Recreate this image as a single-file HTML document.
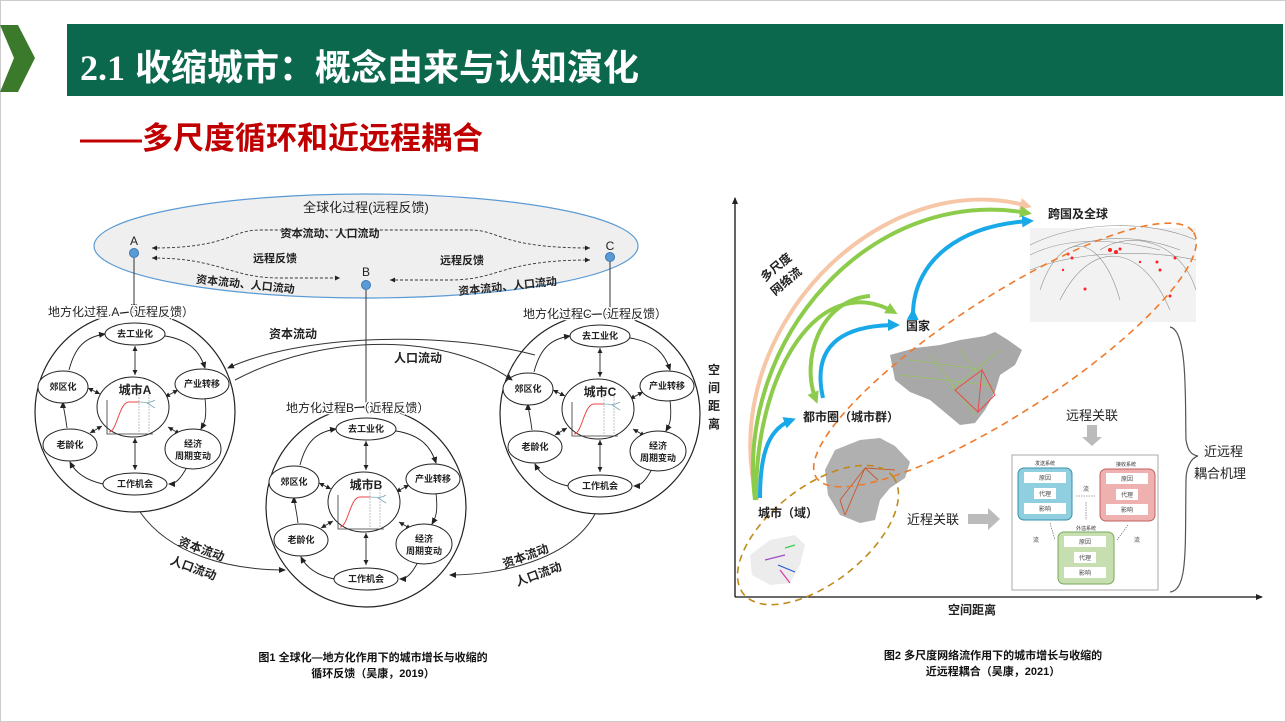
<!DOCTYPE html>
<html><head><meta charset="utf-8"><style>
html,body{margin:0;padding:0;background:#fff;}
svg{display:block;font-family:"Liberation Sans","Noto Sans CJK SC",sans-serif;}
</style></head><body>
<svg width="1286" height="722" viewBox="0 0 1286 722" xmlns="http://www.w3.org/2000/svg">
<defs>
<marker id="ah" markerWidth="8" markerHeight="8" refX="6" refY="4" orient="auto" markerUnits="userSpaceOnUse"><path d="M0,1 L7,4 L0,7 z" fill="#222"/></marker>
<marker id="ahs" markerWidth="6" markerHeight="6" refX="5" refY="3" orient="auto-start-reverse" markerUnits="userSpaceOnUse"><path d="M0,0.5 L5,3 L0,5.5 z" fill="#222"/></marker>
<marker id="ab" markerWidth="14" markerHeight="14" refX="8" refY="7" orient="auto" markerUnits="userSpaceOnUse"><path d="M0,1 L12,7 L0,13 z" fill="#1aa9e8"/></marker>
<marker id="ag" markerWidth="14" markerHeight="14" refX="8" refY="7" orient="auto" markerUnits="userSpaceOnUse"><path d="M0,1 L12,7 L0,13 z" fill="#8ccc4a"/></marker>
<marker id="ap" markerWidth="14" markerHeight="14" refX="8" refY="7" orient="auto" markerUnits="userSpaceOnUse"><path d="M0,1 L12,7 L0,13 z" fill="#f6c6a6"/></marker>
<g id="loc">
<circle cx="0" cy="0" r="100" fill="#fff" stroke="#222" stroke-width="1.2"/>
<g fill="none" stroke="#222" stroke-width="0.9">
<path d="M30,-76 C55,-72 65,-60 70,-44" marker-end="url(#ah)"/>
<path d="M70,-14 C72,5 70,10 66,17" marker-end="url(#ah)"/>
<path d="M52,55 C45,68 40,72 34,72" marker-end="url(#ah)"/>
<path d="M-32,72 C-50,68 -60,60 -65,50" marker-end="url(#ah)"/>
<path d="M-68,16 C-70,0 -72,-5 -72,-10" marker-end="url(#ah)"/>
<path d="M-66,-42 C-60,-65 -50,-75 -30,-78" marker-end="url(#ah)"/>
<line x1="0" y1="-66" x2="0" y2="-37" marker-end="url(#ahs)" marker-start="url(#ahs)"/>
<line x1="0" y1="26" x2="0" y2="58" marker-end="url(#ahs)" marker-start="url(#ahs)"/>
<line x1="43" y1="-22" x2="30" y2="-15" marker-end="url(#ahs)" marker-start="url(#ahs)"/>
<line x1="33" y1="15" x2="45" y2="22" marker-end="url(#ahs)" marker-start="url(#ahs)"/>
<line x1="-47" y1="-24" x2="-35" y2="-18" marker-end="url(#ahs)" marker-start="url(#ahs)"/>
<line x1="-33" y1="14" x2="-45" y2="21" marker-end="url(#ahs)" marker-start="url(#ahs)"/>
</g>
<g fill="#fff" stroke="#222" stroke-width="1">
<ellipse cx="0" cy="-78" rx="30" ry="11"/>
<ellipse cx="67" cy="-28" rx="27" ry="15"/>
<ellipse cx="58" cy="37" rx="28" ry="20"/>
<ellipse cx="0" cy="72" rx="32" ry="11"/>
<ellipse cx="-65" cy="33" rx="27" ry="16"/>
<ellipse cx="-72" cy="-25" rx="25" ry="16"/>
<ellipse cx="-2" cy="-5" rx="36" ry="30"/>
</g>
<g font-size="9" font-weight="bold" text-anchor="middle" fill="#222">
<text x="0" y="-75">去工业化</text>
<text x="67" y="-25">产业转移</text>
<text x="58" y="35">经济</text><text x="58" y="47">周期变动</text>
<text x="0" y="75">工作机会</text>
<text x="-65" y="36">老龄化</text>
<text x="-72" y="-22">郊区化</text>
</g>
<path d="M-28,-12 V22 H18" fill="none" stroke="#333" stroke-width="0.8"/>
<path d="M-26,20 C-18,20 -16,-10 -6,-10 L4,-10" fill="none" stroke="#e44" stroke-width="1"/>
<path d="M4,-10 C10,-10 14,-8 20,-12 M12,-9 L20,-4" fill="none" stroke="#7ab" stroke-width="0.8"/>
<path d="M4,-18 V22 M14,-18 V22" stroke="#999" stroke-width="0.6" stroke-dasharray="2,1"/>
</g>
</defs>

<rect x="0.5" y="0.5" width="1285" height="721" fill="#fff" stroke="#ccc"/>
<polygon points="0,25 18,25 35,58 18,92 0,92 14,58" fill="#3a7a2a"/>
<rect x="67" y="24" width="1216" height="72" fill="#0b684d"/>
<text x="80" y="80" font-size="36" font-weight="bold" fill="#fff"><tspan font-family="Liberation Serif,serif">2.1</tspan> 收缩城市：概念由来与认知演化</text>
<text x="80" y="149" font-size="31" font-weight="bold" fill="#c00000">——多尺度循环和近远程耦合</text>

<!-- left diagram -->
<ellipse cx="366" cy="246" rx="272" ry="52" fill="#efefef" stroke="#5b9bd5" stroke-width="1.2"/>
<text x="366" y="212" font-size="13" text-anchor="middle" fill="#222">全球化过程(远程反馈)</text>
<g fill="none" stroke="#333" stroke-width="0.9" stroke-dasharray="3,2">
<path d="M152,248 C230,248 230,230 260,230 L470,230 C500,230 500,248 590,248" marker-end="url(#ahs)" marker-start="url(#ahs)"/>
<path d="M152,258 C220,258 230,278 280,278 L340,278" marker-end="url(#ahs)" marker-start="url(#ahs)"/>
<path d="M390,280 L450,280 C500,280 500,260 590,260" marker-end="url(#ahs)" marker-start="url(#ahs)"/>
</g>
<g font-size="11" font-weight="bold" fill="#222" text-anchor="middle">
<text x="330" y="237">资本流动、人口流动</text>
<text x="275" y="262">远程反馈</text>
<text x="462" y="264">远程反馈</text>
<text x="245" y="288" transform="rotate(6 245 288)">资本流动、人口流动</text>
<text x="508" y="290" transform="rotate(-6 508 290)">资本流动、人口流动</text>
</g>
<g fill="#5b9bd5" stroke="#3a78b5"><circle cx="134" cy="253" r="4.5"/><circle cx="366" cy="285" r="4.5"/><circle cx="610" cy="257" r="4.5"/></g>
<g font-size="12" fill="#222" text-anchor="middle"><text x="134" y="245">A</text><text x="366" y="276">B</text><text x="610" y="250">C</text></g>
<use href="#loc" x="135" y="412"/>
<use href="#loc" x="366" y="507"/>
<use href="#loc" x="600" y="414"/>
<g stroke="#333" stroke-width="1"><line x1="134" y1="258" x2="134" y2="310" marker-end="url(#ah)"/><line x1="366" y1="290" x2="366" y2="412" marker-end="url(#ah)"/><line x1="610" y1="262" x2="610" y2="314" marker-end="url(#ah)"/></g>
<g font-size="12" fill="#222" stroke="#fff" stroke-width="3" paint-order="stroke">
<text x="48" y="316">地方化过程 A （近程反馈）</text>
<text x="523" y="318">地方化过程C （近程反馈）</text>
<text x="286" y="412">地方化过程B （近程反馈）</text>
</g>
<g font-size="12" font-weight="bold" fill="#222" text-anchor="middle">
<text x="135" y="394">城市A</text><text x="366" y="489">城市B</text><text x="600" y="396">城市C</text>
</g>
<g fill="none" stroke="#333" stroke-width="1">
<path d="M535,355 C440,330 300,335 228,368" marker-end="url(#ah)"/>
<path d="M235,380 C330,330 450,335 512,380" marker-end="url(#ah)"/>
<path d="M140,512 C170,555 230,570 285,570" marker-end="url(#ah)"/>
<path d="M595,514 C570,560 500,575 450,575" marker-end="url(#ah)"/>
</g>
<g font-size="12" font-weight="bold" fill="#222" text-anchor="middle">
<text x="293" y="338">资本流动</text><text x="418" y="362">人口流动</text>
<text x="200" y="553" transform="rotate(20 200 553)">资本流动</text>
<text x="192" y="572" transform="rotate(20 192 572)">人口流动</text>
<text x="527" y="560" transform="rotate(-20 527 560)">资本流动</text>
<text x="540" y="578" transform="rotate(-20 540 578)">人口流动</text>
</g>
<g font-size="11" font-weight="bold" fill="#111" text-anchor="middle">
<text x="373" y="661">图1 全球化—地方化作用下的城市增长与收缩的</text>
<text x="373" y="677">循环反馈（吴康，2019）</text>
<text x="993" y="659">图2 多尺度网络流作用下的城市增长与收缩的</text>
<text x="993" y="675">近远程耦合（吴康，2021）</text>
</g>

<!-- right diagram -->
<g stroke="#111" stroke-width="1.3"><line x1="735" y1="597" x2="735" y2="198" marker-end="url(#ah)"/><line x1="735" y1="597" x2="1262" y2="597" marker-end="url(#ah)"/></g>
<text x="972" y="614" font-size="12" font-weight="bold" text-anchor="middle" fill="#222">空间距离</text>
<g font-size="12" font-weight="bold" fill="#222" text-anchor="middle"><text x="714" y="374">空</text><text x="714" y="392">间</text><text x="714" y="410">距</text><text x="714" y="428">离</text></g>
<rect x="1030" y="228" width="166" height="94" fill="#f2f2f2"/>
<g fill="none" stroke="#777" stroke-width="0.6" opacity="0.8">
<path d="M1030,245 C1080,220 1150,220 1196,240"/><path d="M1030,255 C1070,235 1120,240 1160,250"/><path d="M1040,290 C1060,230 1100,230 1120,300"/><path d="M1100,250 C1130,230 1180,240 1196,290"/><path d="M1060,300 C1090,240 1140,240 1170,310"/><path d="M1030,270 C1080,250 1150,250 1196,260"/><path d="M1070,248 C1100,235 1140,235 1180,250"/>
</g>
<g fill="#f22"><circle cx="1068" cy="254" r="1.5"/><circle cx="1072" cy="258" r="1.5"/><circle cx="1110" cy="250" r="2"/><circle cx="1116" cy="252" r="2"/><circle cx="1120" cy="249" r="1.5"/><circle cx="1157" cy="262" r="1.5"/><circle cx="1160" cy="270" r="1.5"/><circle cx="1175" cy="258" r="1.5"/><circle cx="1085" cy="289" r="1.5"/><circle cx="1170" cy="296" r="1.5"/><circle cx="1063" cy="270" r="1.2"/><circle cx="1140" cy="262" r="1.2"/></g>
<path d="M890,355 L915,348 L940,345 L960,340 L985,336 L995,332 L1008,340 L1022,350 L1015,365 L1000,375 L995,392 L985,410 L975,423 L960,425 L948,415 L930,400 L910,392 L895,380 Z" fill="#a8a8a8"/>
<g stroke="#8fd43a" stroke-width="0.6" opacity="0.9"><line x1="910" y1="360" x2="985" y2="370"/><line x1="930" y1="355" x2="975" y2="415"/><line x1="960" y1="350" x2="995" y2="395"/><line x1="900" y1="375" x2="990" y2="385"/><line x1="950" y1="390" x2="1000" y2="350"/></g>
<g stroke="#e44" stroke-width="0.9" fill="none"><path d="M982,370 L995,395 L978,412 Z M955,390 L982,370 L978,412 Z"/></g>
<path d="M835,450 L860,440 L880,438 L895,446 L910,462 L905,478 L890,488 L880,500 L875,520 L860,523 L840,515 L828,495 L825,470 Z" fill="#b0b0b0"/>
<g stroke="#c8582a" stroke-width="0.9"><line x1="865" y1="468" x2="840" y2="500"/><line x1="865" y1="468" x2="878" y2="480"/><line x1="865" y1="468" x2="845" y2="515"/><line x1="840" y1="500" x2="845" y2="515"/><line x1="865" y1="468" x2="895" y2="470"/></g>
<path d="M750,555 L770,540 L795,535 L805,545 L800,565 L790,583 L770,585 L752,575 Z" fill="#ececec"/>
<g stroke-width="1.2" fill="none"><path d="M765,560 L785,555" stroke="#9a4cc8"/><path d="M778,565 L795,572" stroke="#2a56d8"/><path d="M780,570 L790,583" stroke="#d83aa8"/><path d="M785,548 L795,545" stroke="#3acc4a"/></g>
<ellipse cx="1005" cy="355" rx="225" ry="58" transform="rotate(-33 1005 355)" fill="none" stroke="#ee7a2a" stroke-width="1.6" stroke-dasharray="7,5"/>
<ellipse cx="818" cy="535" rx="95" ry="48" transform="rotate(-38 818 535)" fill="none" stroke="#c08a1a" stroke-width="1.6" stroke-dasharray="7,5"/>
<g fill="none" stroke-width="4">
<path d="M757,500 C715,330 880,165 1028,206" stroke="#f6c6a6" marker-end="url(#ap)"/>
<path d="M755,500 C735,340 870,185 1028,213" stroke="#8ccc4a" marker-end="url(#ag)"/>
<path d="M756,500 C755,370 820,270 894,312" stroke="#8ccc4a" marker-end="url(#ag)"/>
<path d="M870,296 C820,300 800,360 816,400" stroke="#8ccc4a" marker-end="url(#ag)"/>
<path d="M760,498 C760,450 770,428 792,420" stroke="#1aa9e8" marker-end="url(#ab)"/>
<path d="M823,398 C810,340 850,325 896,325" stroke="#1aa9e8" marker-end="url(#ab)"/>
<path d="M913,312 C915,260 960,225 1030,221" stroke="#1aa9e8" marker-end="url(#ab)" marker-start="url(#ab)"/>
</g>
<g font-size="12" font-weight="bold" fill="#222">
<text x="1048" y="218">跨国及全球</text>
<text x="906" y="330">国家</text>
<text x="803" y="421">都市圈（城市群）</text>
<text x="758" y="517">城市（域）</text>
<text x="765" y="282" transform="rotate(-40 765 282)">多尺度</text>
<text x="775" y="296" transform="rotate(-40 775 296)">网络流</text>
</g>
<g font-size="13" fill="#222"><text x="1066" y="420">远程关联</text><text x="907" y="524">近程关联</text><text x="1204" y="456">近远程</text><text x="1194" y="478">耦合机理</text></g>
<polygon points="1087,425 1097,425 1097,437 1102,437 1092,446 1082,437 1087,437" fill="#bbb"/>
<polygon points="968,514 988,514 988,508 1000,519 988,530 988,524 968,524" fill="#bbb"/>
<path d="M1170,327 C1188,330 1185,400 1186,440 C1188,452 1192,455 1198,456 C1190,458 1186,470 1186,480 C1185,550 1188,590 1170,592" fill="none" stroke="#555" stroke-width="1.2"/>
<rect x="1012" y="455" width="146" height="135" fill="#fff" stroke="#aaa"/>
<g font-size="5" fill="#333" text-anchor="middle"><text x="1045" y="465">发送系统</text><text x="1126" y="466">接收系统</text><text x="1086" y="530">外溢系统</text></g>
<rect x="1018" y="468" width="54" height="52" rx="6" fill="#8fcfe0" stroke="#3a8fa8"/>
<rect x="1100" y="469" width="55" height="52" rx="6" fill="#efb0b0" stroke="#c06060"/>
<rect x="1058" y="532" width="56" height="52" rx="6" fill="#c7dfb0" stroke="#7aa85a"/>
<g fill="#fff">
<rect x="1024" y="472" width="42" height="11"/><rect x="1034" y="488" width="22" height="11"/><rect x="1024" y="503" width="42" height="11"/>
<rect x="1106" y="473" width="42" height="11"/><rect x="1116" y="489" width="22" height="11"/><rect x="1106" y="504" width="42" height="11"/>
<rect x="1064" y="536" width="42" height="11"/><rect x="1074" y="552" width="22" height="11"/><rect x="1064" y="567" width="42" height="11"/>
</g>
<g font-size="6" fill="#444" text-anchor="middle">
<text x="1045" y="480">原因</text><text x="1045" y="496">代理</text><text x="1045" y="511">影响</text>
<text x="1127" y="481">原因</text><text x="1127" y="497">代理</text><text x="1127" y="512">影响</text>
<text x="1085" y="544">原因</text><text x="1085" y="560">代理</text><text x="1085" y="575">影响</text>
<text x="1086" y="491">流</text><text x="1036" y="542">流</text><text x="1137" y="542">流</text>
</g>
<g stroke="#555" stroke-width="0.6" stroke-dasharray="1.5,1"><line x1="1076" y1="496" x2="1096" y2="496"/><line x1="1086" y1="502" x2="1086" y2="520"/><line x1="1050" y1="523" x2="1055" y2="540"/><line x1="1128" y1="525" x2="1117" y2="540"/></g>
</svg>
</body></html>
